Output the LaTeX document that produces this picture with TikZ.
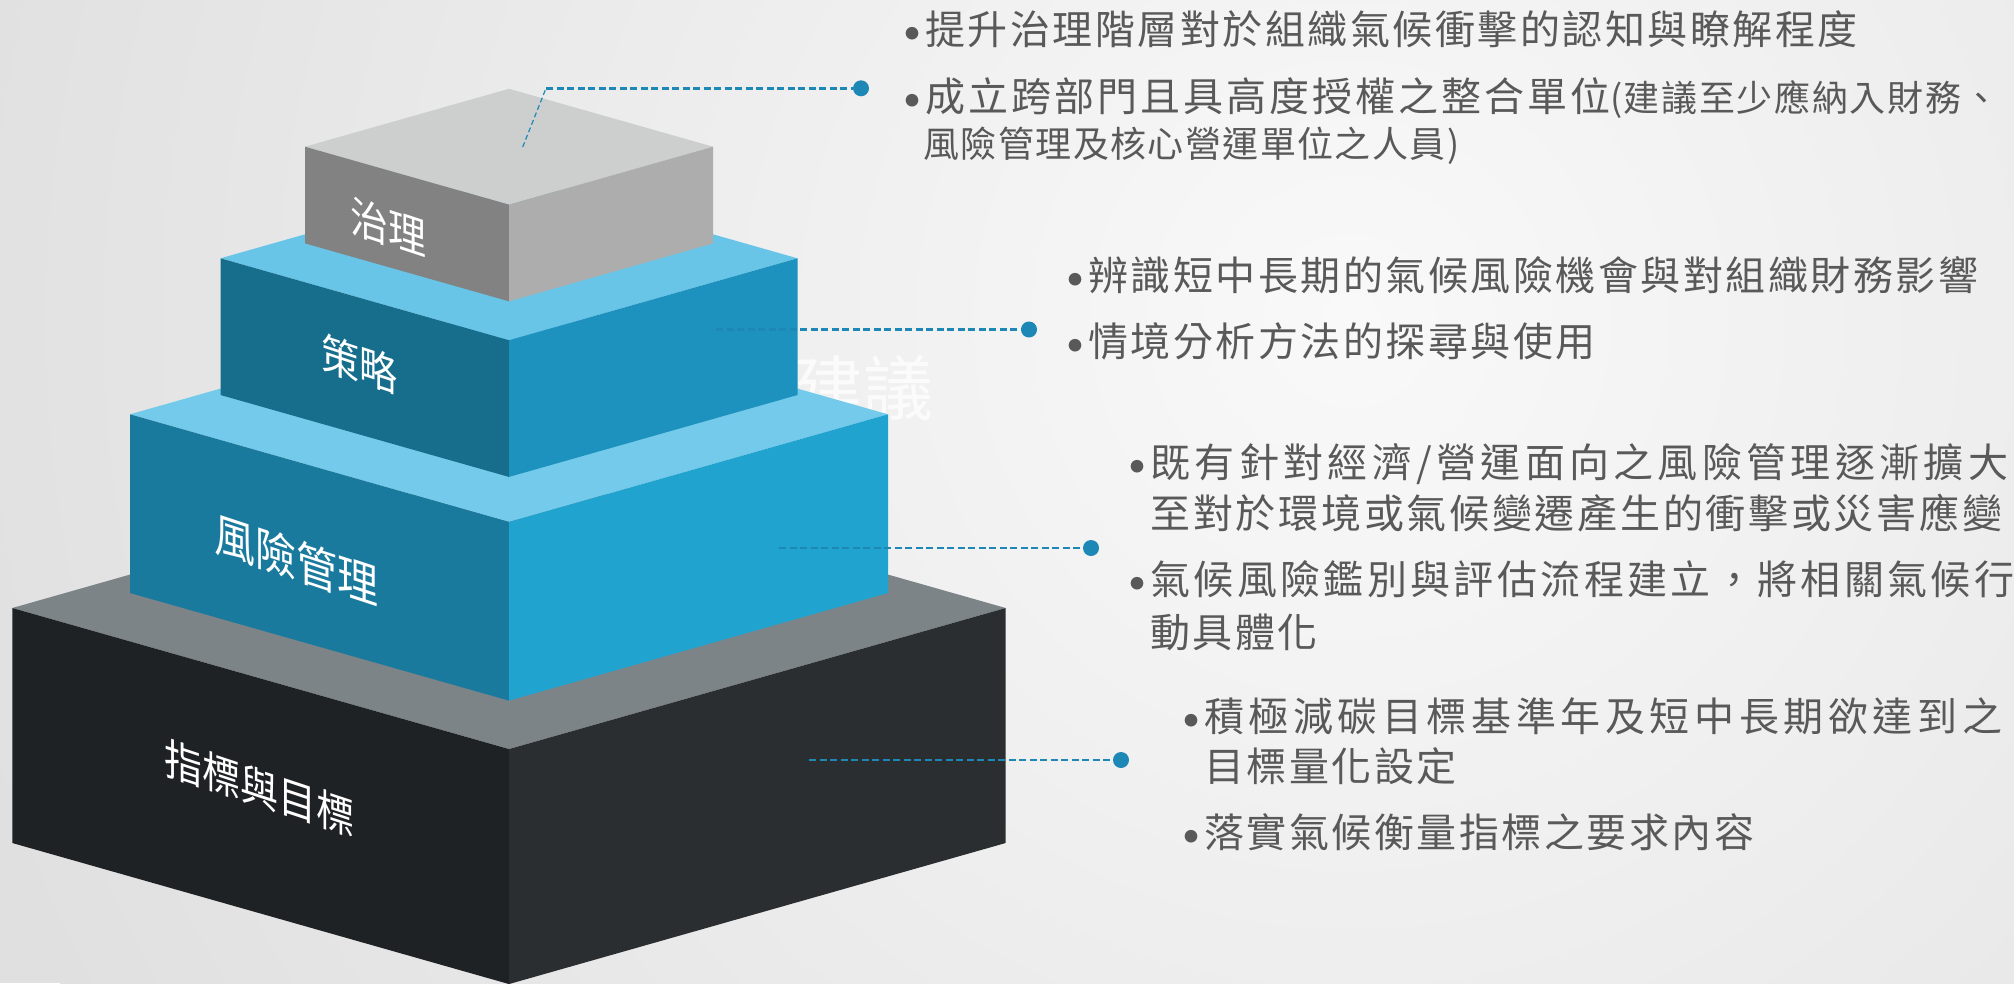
\documentclass[tikz,border=0pt]{standalone}
\usepackage{fontspec}
\newfontfamily\cjk{Noto Sans CJK TC}
\definecolor{txtgray}{HTML}{595959}
\definecolor{bgin}{HTML}{F9F9F9}
\definecolor{bgout}{HTML}{E0E0E0}
\definecolor{connblue}{HTML}{1D88B6}
\definecolor{gtop}{HTML}{CDCFCE}\definecolor{gleft}{HTML}{818281}\definecolor{gright}{HTML}{ACADAC}
\definecolor{stop}{HTML}{69C5E8}\definecolor{sleft}{HTML}{176E8C}\definecolor{sright}{HTML}{1E92BE}
\definecolor{rtop}{HTML}{74CAEA}\definecolor{rleft}{HTML}{1A7A9D}\definecolor{rright}{HTML}{21A3D0}
\definecolor{mtop}{HTML}{7D8488}\definecolor{mleft}{HTML}{1F2224}\definecolor{mright}{HTML}{2A2E31}
\newcommand\txbig[1]{\cjk\fontsize{40pt}{40pt}\selectfont\addfontfeature{LetterSpace=#1}}
\newcommand\txsmall[1]{\cjk\fontsize{36pt}{36pt}\selectfont\addfontfeature{LetterSpace=#1}}
\newcommand\bul{\llap{\makebox[0pt][c]{\raisebox{-12pt}{\scalebox{1.5}{•}}}\hspace{13pt}}}
% center x, y of left/right vertices, half width, height, top, left, right colours
\newcommand\drawblock[7]{%
  \pgfmathsetmacro\hh{0.284*#3}%
  \fill[#5] (#1,#2-\hh) -- (#1-#3,#2) -- (#1,#2+\hh) -- (#1+#3,#2) -- cycle;
  \fill[#6] (#1-#3,#2) -- (#1,#2+\hh) -- (#1,#2+\hh+#4) -- (#1-#3,#2+#4) -- cycle;
  \fill[#7] (#1,#2+\hh) -- (#1+#3,#2) -- (#1+#3,#2+#4) -- (#1,#2+\hh+#4) -- cycle;
}
\begin{document}
\begin{tikzpicture}[x=1pt,y=-1pt,
  tl/.style={anchor=base west,inner sep=0pt,outer sep=0pt,text=txtgray},
  blabel/.style={text=white,inner sep=0pt,yslant=-0.33,yscale=1.15,font=\cjk\fontsize{38pt}{38pt}\selectfont},
  conn/.style={draw=connblue,line width=2.4pt,dash pattern=on 7pt off 3.5pt},
  connthin/.style={draw=connblue,line width=1.2pt,dash pattern=on 5pt off 3pt},
  dotnode/.style={circle,fill=connblue,minimum size=16pt,inner sep=0pt,outer sep=0pt}]
\useasboundingbox (0,0) rectangle (2014,983);
% background
\fill[bgout] (0,0) rectangle (2014,983);
\begin{scope}
\clip (0,0) rectangle (2014,983);
\shade[inner color=bgin,outer color=bgout] (1350,320) circle[radius=1450pt];
\end{scope}
% faint ghost text
\node[anchor=base west,inner sep=0pt,text=white,opacity=0.75,font=\cjk\fontsize{70pt}{70pt}\selectfont] (ghost) at (793,414) {建議};
% blocks, bottom to top
\drawblock{509}{608}{496.7}{235}{mtop}{mleft}{mright}
\drawblock{509}{414.3}{379}{178.7}{rtop}{rleft}{rright}
\drawblock{509}{258.3}{288.5}{136.7}{stop}{sleft}{sright}
\drawblock{509}{146.7}{204}{96.7}{gtop}{gleft}{gright}
% block labels
\node[blabel] (lgov) at (388,227) {治理};
\node[blabel] (lstr) at (359,364) {策略};
\node[blabel,font=\cjk\fontsize{41pt}{41pt}\selectfont] (lrisk) at (296,560) {風險管理};
\node[blabel] (lmet) at (259,788) {指標與目標};
% connectors
\coordinate (g0) at (522.7,147);
\coordinate (g1) at (546,88.3);
\node[dotnode] (gdot) at (861,88.3) {};
\draw[connthin] (g0) -- (g1);
\draw[conn] (g1) -- (gdot);
\coordinate (s0) at (716,329.5);
\node[dotnode] (sdot) at (1029,329.5) {};
\draw[conn] (s0) -- (sdot);
\coordinate (r0) at (779,548);
\node[dotnode] (rdot) at (1091,548) {};
\draw[conn] (r0) -- (rdot);
\coordinate (m0) at (809,760);
\node[dotnode] (mdot) at (1121,760) {};
\draw[conn] (m0) -- (mdot);
% texts
\node[tl] (p1a) at (925,44) {\txbig{6.25}\bul 提升治理階層對於組織氣候衝擊的認知與瞭解程度};
\node[tl] (p1b) at (925,111) {\txbig{7.5}\bul 成立跨部門且具高度授權之整合單位\txsmall{4.7}(建議至少應納入財務、};
\node[tl] (p1c) at (923.5,157) {\txsmall{3.9}風險管理及核心營運單位之人員)};
\node[tl] (p2a) at (1088.5,290) {\txbig{6.25}\bul 辨識短中長期的氣候風險機會與對組織財務影響};
\node[tl] (p2b) at (1088.5,356) {\txbig{6.25}\bul 情境分析方法的探尋與使用};
\node[tl] (p3a) at (1150.5,477) {\txbig{10.8}\bul 既有針對經濟/營運面向之風險管理逐漸擴大};
\node[tl] (p3b) at (1150.5,528) {\txbig{6.8}至對於環境或氣候變遷產生的衝擊或災害應變};
\node[tl] (p3c) at (1150.5,594) {\txbig{8.4}\bul 氣候風險鑑別與評估流程建立，將相關氣候行};
\node[tl] (p3d) at (1150.5,647) {\txbig{6.25}動具體化};
\node[tl] (p4a) at (1204,731) {\txbig{11.5}\bul 積極減碳目標基準年及短中長期欲達到之};
\node[tl] (p4b) at (1204,781) {\txbig{6.25}目標量化設定};
\node[tl] (p4c) at (1204,847) {\txbig{6.25}\bul 落實氣候衡量指標之要求內容};
\end{tikzpicture}
\end{document}
